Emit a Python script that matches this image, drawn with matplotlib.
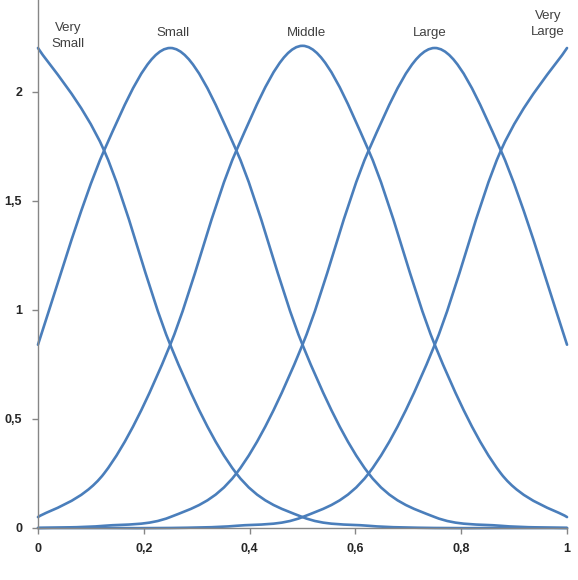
import numpy as np
import matplotlib
matplotlib.use('Agg')
import matplotlib.pyplot as plt
from matplotlib.path import Path
from matplotlib.patches import PathPatch

x = [0, 0.125, 0.25, 0.375, 0.5, 0.625, 0.75, 0.875, 1]
very_small = [2.20, 1.73, 0.84, 0.25, 0.05, 0.01, 0, 0, 0]
small = [0.84, 1.73, 2.20, 1.73, 0.84, 0.25, 0.05, 0.01, 0]
middle = [0.05, 0.25, 0.84, 1.73, 2.21, 1.73, 0.84, 0.25, 0.05]
large = [0, 0.01, 0.05, 0.25, 0.84, 1.73, 2.20, 1.73, 0.84]
very_large = [0, 0, 0, 0.01, 0.05, 0.25, 0.84, 1.73, 2.20]

series = [very_small, small, middle, large, very_large]
names = ["Very\nSmall", "Small", "Middle", "Large", "Very\nLarge"]
label_pos = [(0.057, 2.255), (0.255, 2.27), (0.508, 2.27), (0.741, 2.27), (0.964, 2.31)]

LINE = '#4a7ebb'


def smooth_path(xs, ys):
    # Catmull-Rom style bezier, like a spreadsheet "smoothed line"
    pts = np.column_stack([xs, ys]).astype(float)
    n = len(pts)
    verts = [pts[0]]
    codes = [Path.MOVETO]
    for i in range(n - 1):
        p0 = pts[i - 1] if i > 0 else pts[i]
        p1 = pts[i]
        p2 = pts[i + 1]
        p3 = pts[i + 2] if i + 2 < n else pts[i + 1]
        c1 = p1 + (p2 - p0) / 6.0
        c2 = p2 - (p3 - p1) / 6.0
        verts += [c1, c2, p2]
        codes += [Path.CURVE4] * 3
    return Path(verts, codes)


plt.rcParams['font.family'] = ['Liberation Sans', 'DejaVu Sans']

fig = plt.figure(figsize=(5.78, 5.80), dpi=100)
ax = fig.add_axes([0.0657, 0.0897, 0.9153, 0.9103])

for ys in series:
    ax.add_patch(PathPatch(smooth_path(x, ys), facecolor='none',
                           edgecolor=LINE, lw=1.9, capstyle='round',
                           joinstyle='round', clip_on=False))

for name, (lx, ly) in zip(names, label_pos):
    ax.text(lx, ly, name, ha='center', va='center', fontsize=9.5,
            color='#404040', linespacing=1.35)

ax.set_xlim(0, 1)
ax.set_ylim(0, 2.42)
ax.set_xticks(np.arange(0, 1.01, 0.2))
ax.set_yticks(np.arange(0, 2.01, 0.5))
ax.set_xticklabels(['0', '0,2', '0,4', '0,6', '0,8', '1'])
ax.set_yticklabels(['0', '0,5', '1', '1,5', '2'])

for side in ['top', 'right']:
    ax.spines[side].set_visible(False)
for side in ['left', 'bottom']:
    ax.spines[side].set_color('#868686')
    ax.spines[side].set_linewidth(1.0)

ax.tick_params(axis='both', direction='out', length=4.5, width=1,
               color='#868686', labelsize=9, labelcolor='#262626')
ax.tick_params(axis='y', pad=7)
ax.tick_params(axis='x', pad=6)
for t in ax.get_xticklabels() + ax.get_yticklabels():
    t.set_fontweight('bold')

fig.savefig('out.png', dpi=100)
